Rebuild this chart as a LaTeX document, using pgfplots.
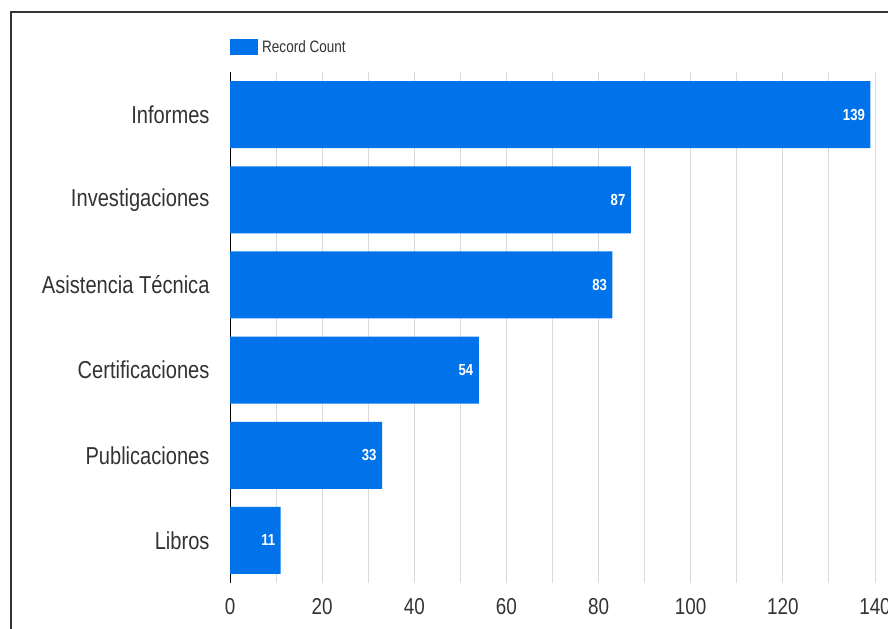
\documentclass[border=0pt]{standalone}
\usepackage{fontspec}
\setmainfont{Liberation Sans}[FakeStretch=0.82]
\usepackage{pgfplots}
\pgfplotsset{compat=1.18}
\definecolor{barblue}{RGB}{0,115,234}
\definecolor{gridgray}{RGB}{217,217,217}
\definecolor{labgray}{RGB}{51,51,51}
\begin{document}
\begin{tikzpicture}
\path[use as bounding box] (0,0) rectangle (888bp,629bp);
\clip (0,0) rectangle (888bp,629bp);
\draw[line width=1.5bp, black!80] (11bp,-5bp) -- (11bp,617bp) -- (895bp,617bp);
\begin{axis}[
  at={(230bp,46bp)}, anchor=south west,
  scale only axis, width=645bp, height=511bp,
  xbar, bar width=67bp,
  xmin=0, xmax=140,
  ymin=-0.5, ymax=5.5, y dir=reverse,
  ytick={0,1,2,3,4,5},
  yticklabels={Informes,Investigaciones,Asistencia Técnica,Certificaciones,Publicaciones,Libros},
  xtick={0,20,...,140},
  minor xtick={10,30,...,130},
  xmajorgrids, xminorgrids,
  major grid style={gridgray, line width=1bp},
  minor grid style={gridgray, line width=1bp},
  major tick length=0pt, minor tick length=0pt,
  axis y line*=left, axis x line*=bottom,
  x axis line style={draw=none},
  y axis line style={black, line width=1bp, -},
  /pgf/number format/assume math mode=true,
  xticklabel style={font=\fontsize{23bp}{26bp}\selectfont, text=labgray, yshift=-12bp},
  yticklabel style={font=\fontsize{24.5bp}{28bp}\selectfont, text=labgray, xshift=-17bp},
  nodes near coords,
  nodes near coords style={anchor=east, xshift=-2bp, text=white, font=\bfseries\fontsize{16bp}{19bp}\selectfont},
  legend style={at={(0,1)}, anchor=west, yshift=25bp, xshift=0bp, draw=none, fill=none, inner sep=0pt,
    font=\fontsize{16.5bp}{19bp}\selectfont, text=labgray,
    nodes={inner xsep=4bp}},
  legend image code/.code={\fill[barblue] (0bp,-8bp) rectangle (28bp,8bp);},
]
\addplot[fill=barblue, draw=none] coordinates {(139,0) (87,1) (83,2) (54,3) (33,4) (11,5)};
\addlegendentry{Record Count}
\end{axis}
\end{tikzpicture}
\end{document}
